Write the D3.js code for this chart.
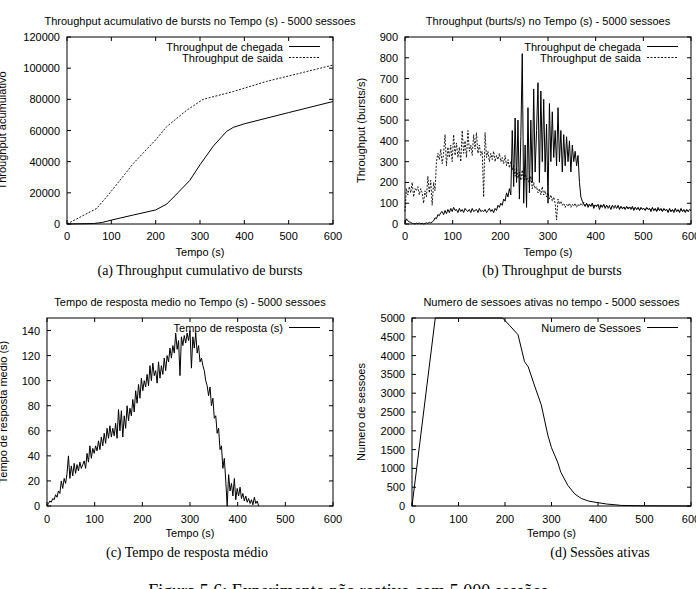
<!DOCTYPE html>
<html>
<head>
<meta charset="utf-8">
<script src="https://cdn.jsdelivr.net/npm/d3@7"></script>
<style>
  html, body { margin: 0; padding: 0; background: #fff; }
  svg { display: block; }
  text { font-family: "Liberation Sans", Arial, sans-serif; fill: #000; }
  .cap { font-family: "Liberation Serif", "DejaVu Serif", serif; }
</style>
</head>
<body>
<svg id="chart" width="696" height="589"></svg>
<script>
// ---------------- DATA ----------------
const xTicks = [0, 100, 200, 300, 400, 500, 600];

// (a) cumulative throughput
const cumTime     = [0, 60, 80, 100, 150, 200, 225, 250, 277, 300, 330, 360, 375, 400, 500, 600];
const cumChegada  = [0, 300, 1000, 2500, 5800, 9000, 12800, 20000, 28000, 38000, 50000, 59400, 62000, 64300, 71500, 78600];
const cumSaidaT   = [0, 67, 97, 150, 200, 225, 270, 307, 375, 450, 600];
const cumSaida    = [0, 10000, 20000, 39000, 54000, 62500, 73000, 80000, 85000, 91500, 102000];
const yTicksA     = [0, 20000, 40000, 60000, 80000, 100000, 120000];

// (b) throughput (bursts/s), sampled every 3 s from 0 to 600
const thrStep = 3;
const thrChegada = [
  5,25,15,10,8,3,2,0,4,2, 5,1,3,0,2,6,3,8,5,10,
  15,30,25,45,40,55,
  60,45,65,50,70,55,75,60,80,65, 70,55,75,60,70,55,75,65,60,70,
  55,75,60,65,70,55,75,60,65,60, 70,55,65,75,60,70,55,75,65,90, 80,
  100,90,120,110,150,130,170,140,
  450,180,510,200,500,120,420,820,100,380, 80,560,150,500,200,650,250,450,680,200,
  640,300,600,250,480,100,580,300,540,320, 450,280,560,300,450,250,430,280,420,300,
  400,250,380,300,350,280,330,200,130,
  110,95,85,100,80,95,85,100,75,90, 85,95,70,90,80,95,75,90,80,85,
  70,90,80,85,75,90,70,85,75,80, 70,85,75,80,70,85,65,80,70,80,
  65,80,70,75,65,80,70,75,60,80, 65,75,60,80,65,75,60,75,65,70,
  55,75,60,70,55,75,60,70,55,75, 60,70,55,70,60,70,65
];
const thrSaida = [
  60,170,140,180,150,200,130,170,160,180,
  140,170,150,100,160,130,230,150,210,90,
  200,160,300,340,310,360,290,340,430,280,
  370,320,380,300,430,330,390,320,370,300,
  450,340,400,320,450,350,380,330,430,360,
  440,340,380,330,350,130,440,320,350,300,
  340,310,350,300,330,310,340,300,320,290,
  330,280,310,270,300,260,280,230,270,220,
  250,210,260,200,240,210,220,190,230,170,
  200,170,180,150,170,140,180,140,160,130,
  150,120,140,110,130,100,20,120,95,110,
  90,100,80,95,85,100,80,95,85,100,
  80,95,85,100,90,105,85,100,90,95,
  85,100,80,95,85,90,80,95,85,90,
  80,90,75,90,80,85,75,90,80,85,
  75,85,70,85,75,80,70,85,75,80,
  70,80,70,80,65,80,70,75,65,80,
  70,75,65,75,65,75,60,75,65,70,
  60,75,65,70,60,70,60,70,60,70,
  60,70,60,70,60,65,60,70,60,65,
  65
];
const yTicksB = [0, 100, 200, 300, 400, 500, 600, 700, 800, 900];

// (c) mean response time, sampled every 3 s from 0 to 444
const respStep = 3;
const respTempo = [
  0,2,4,3,6,5,9,7,12,10,
  20,14,22,18,26,40,22,32,24,34,
  26,33,28,35,30,33,36,30,42,35,
  48,38,46,42,48,44,52,45,55,48,
  58,50,62,54,64,55,62,56,66,54,
  77,60,76,55,72,62,80,68,78,72,
  85,75,92,82,97,86,102,92,100,95,
  105,96,112,100,114,104,108,98,115,102,
  112,105,118,108,120,115,126,118,128,122,
  138,125,132,104,135,128,136,130,138,132,
  140,110,135,126,138,122,128,115,118,112,
  108,100,96,88,95,80,86,70,72,58,
  62,45,48,30,38,20,0,25,12,18,
  8,22,5,14,8,15,6,10,4,8,
  3,6,2,5,1,7,2,4,0
];
const yTicksC = [0, 20, 40, 60, 80, 100, 120, 140];

// (d) active sessions
const sesTime = [0, 50, 195, 210, 228, 242, 250, 263, 278, 292, 300, 313, 320, 335, 350, 364, 380, 399, 420, 435, 450, 500, 600];
const sesNum  = [0, 5000, 5000, 4800, 4555, 3840, 3700, 3220, 2690, 1890, 1550, 1170, 900, 550, 320, 200, 130, 90, 50, 35, 15, 5, 0];
const yTicksD = [0, 500, 1000, 1500, 2000, 2500, 3000, 3500, 4000, 4500, 5000];

// ---------------- DRAW ----------------
const svg = d3.select("#chart");

function panel(cfg) {
  const x = d3.scaleLinear().domain([0, 600]).range([cfg.x0, cfg.x1]);
  const y = d3.scaleLinear().domain(cfg.yDomain).range([cfg.y1, cfg.y0]);
  const g = svg.append("g");
  const tl = 4;

  const line = d3.line().x(d => x(d[0])).y(d => y(d[1]));
  cfg.series.forEach(s => {
    g.append("path")
      .attr("d", line(s.pts))
      .attr("fill", "none")
      .attr("stroke", "#000")
      .attr("stroke-width", s.dash ? 0.9 : 1)
      .attr("stroke-dasharray", s.dash ? "2,1.5" : null)
      .attr("stroke-linejoin", "round");
  });

  g.append("rect")
    .attr("x", cfg.x0).attr("y", cfg.y0)
    .attr("width", cfg.x1 - cfg.x0).attr("height", cfg.y1 - cfg.y0)
    .attr("fill", "none").attr("stroke", "#000").attr("stroke-width", 1);

  xTicks.forEach(t => {
    const px = x(t);
    g.append("line").attr("x1", px).attr("x2", px).attr("y1", cfg.y1).attr("y2", cfg.y1 - tl).attr("stroke", "#000");
    g.append("line").attr("x1", px).attr("x2", px).attr("y1", cfg.y0).attr("y2", cfg.y0 + tl).attr("stroke", "#000");
    g.append("text").attr("x", px).attr("y", cfg.y1 + cfg.xlabOff)
      .attr("text-anchor", "middle").attr("dominant-baseline", "central")
      .attr("font-size", 11).text(t);
  });
  cfg.yTicks.forEach(t => {
    const py = y(t);
    g.append("line").attr("x1", cfg.x0).attr("x2", cfg.x0 + tl).attr("y1", py).attr("y2", py).attr("stroke", "#000");
    g.append("line").attr("x1", cfg.x1).attr("x2", cfg.x1 - tl).attr("y1", py).attr("y2", py).attr("stroke", "#000");
    g.append("text").attr("x", cfg.x0 - 7).attr("y", py)
      .attr("text-anchor", "end").attr("dominant-baseline", "central")
      .attr("font-size", 11).text(t);
  });

  g.append("text").attr("x", (cfg.x0 + cfg.x1) / 2).attr("y", cfg.y0 - 16)
    .attr("text-anchor", "middle").attr("dominant-baseline", "central")
    .attr("font-size", 11).text(cfg.title);
  g.append("text").attr("x", (cfg.x0 + cfg.x1) / 2).attr("y", cfg.y1 + cfg.xtitleOff)
    .attr("text-anchor", "middle").attr("dominant-baseline", "central")
    .attr("font-size", 11).text("Tempo (s)");
  g.append("text")
    .attr("transform", `translate(${cfg.ylabX},${(cfg.y0 + cfg.y1) / 2}) rotate(-90)`)
    .attr("text-anchor", "middle")
    .attr("font-size", 11).text(cfg.ylabel);

  cfg.series.forEach((s, i) => {
    const ly = cfg.y0 + 9.5 + i * 11;
    g.append("text").attr("x", cfg.x1 - 50).attr("y", ly)
      .attr("text-anchor", "end").attr("dominant-baseline", "central")
      .attr("font-size", 11).text(s.name);
    g.append("line").attr("x1", cfg.x1 - 44).attr("x2", cfg.x1 - 13)
      .attr("y1", ly).attr("y2", ly)
      .attr("stroke", "#000").attr("stroke-width", s.dash ? 0.9 : 1)
      .attr("stroke-dasharray", s.dash ? "2,1.5" : null);
  });
}

const zip = (ts, vs) => vs.map((v, i) => [ts[i], v]);
const stepped = (step, vs) => vs.map((v, i) => [i * step, v]);

panel({
  x0: 67, x1: 333, y0: 37, y1: 224,
  yDomain: [0, 120000], yTicks: yTicksA,
  title: "Throughput acumulativo de bursts no Tempo (s) - 5000 sessoes",
  ylabel: "Throughput acumulativo", ylabX: 6,
  xlabOff: 12, xtitleOff: 28,
  series: [
    { name: "Throughput de chegada", pts: zip(cumTime, cumChegada) },
    { name: "Throughput de saida", pts: zip(cumSaidaT, cumSaida), dash: true }
  ]
});

panel({
  x0: 405, x1: 691, y0: 37, y1: 224,
  yDomain: [0, 900], yTicks: yTicksB,
  title: "Throughput (burts/s) no Tempo (s) - 5000 sessoes",
  ylabel: "Throughput (bursts/s)", ylabX: 365,
  xlabOff: 12, xtitleOff: 28,
  series: [
    { name: "Throughput de chegada", pts: stepped(thrStep, thrChegada) },
    { name: "Throughput de saida", pts: stepped(thrStep, thrSaida), dash: true }
  ]
});

panel({
  x0: 47, x1: 333, y0: 318, y1: 506,
  yDomain: [0, 150], yTicks: yTicksC,
  title: "Tempo de resposta medio no Tempo (s) - 5000 sessoes",
  ylabel: "Tempo de resposta medio (s)", ylabX: 7,
  xlabOff: 13, xtitleOff: 27,
  series: [
    { name: "Tempo de resposta (s)", pts: stepped(respStep, respTempo) }
  ]
});

panel({
  x0: 412, x1: 691, y0: 318, y1: 506,
  yDomain: [0, 5000], yTicks: yTicksD,
  title: "Numero de sessoes ativas no tempo - 5000 sessoes",
  ylabel: "Numero de sessoes", ylabX: 365,
  xlabOff: 13, xtitleOff: 27,
  series: [
    { name: "Numero de Sessoes", pts: zip(sesTime, sesNum) }
  ]
});

const caps = [
  { x: 200, y: 275, t: "(a) Throughput cumulativo de bursts" },
  { x: 552, y: 275, t: "(b) Throughput de bursts" },
  { x: 187, y: 557, t: "(c) Tempo de resposta médio" },
  { x: 600, y: 557, t: "(d) Sessões ativas" }
];
caps.forEach(c => {
  svg.append("text").attr("class", "cap").attr("x", c.x).attr("y", c.y)
    .attr("text-anchor", "middle").attr("font-size", 14).text(c.t);
});
svg.append("text").attr("class", "cap").attr("x", 348).attr("y", 597)
  .attr("text-anchor", "middle").attr("font-size", 18)
  .text("Figura 5.6: Experimento não reativo com 5.000 sessões");
</script>
</body>
</html>
